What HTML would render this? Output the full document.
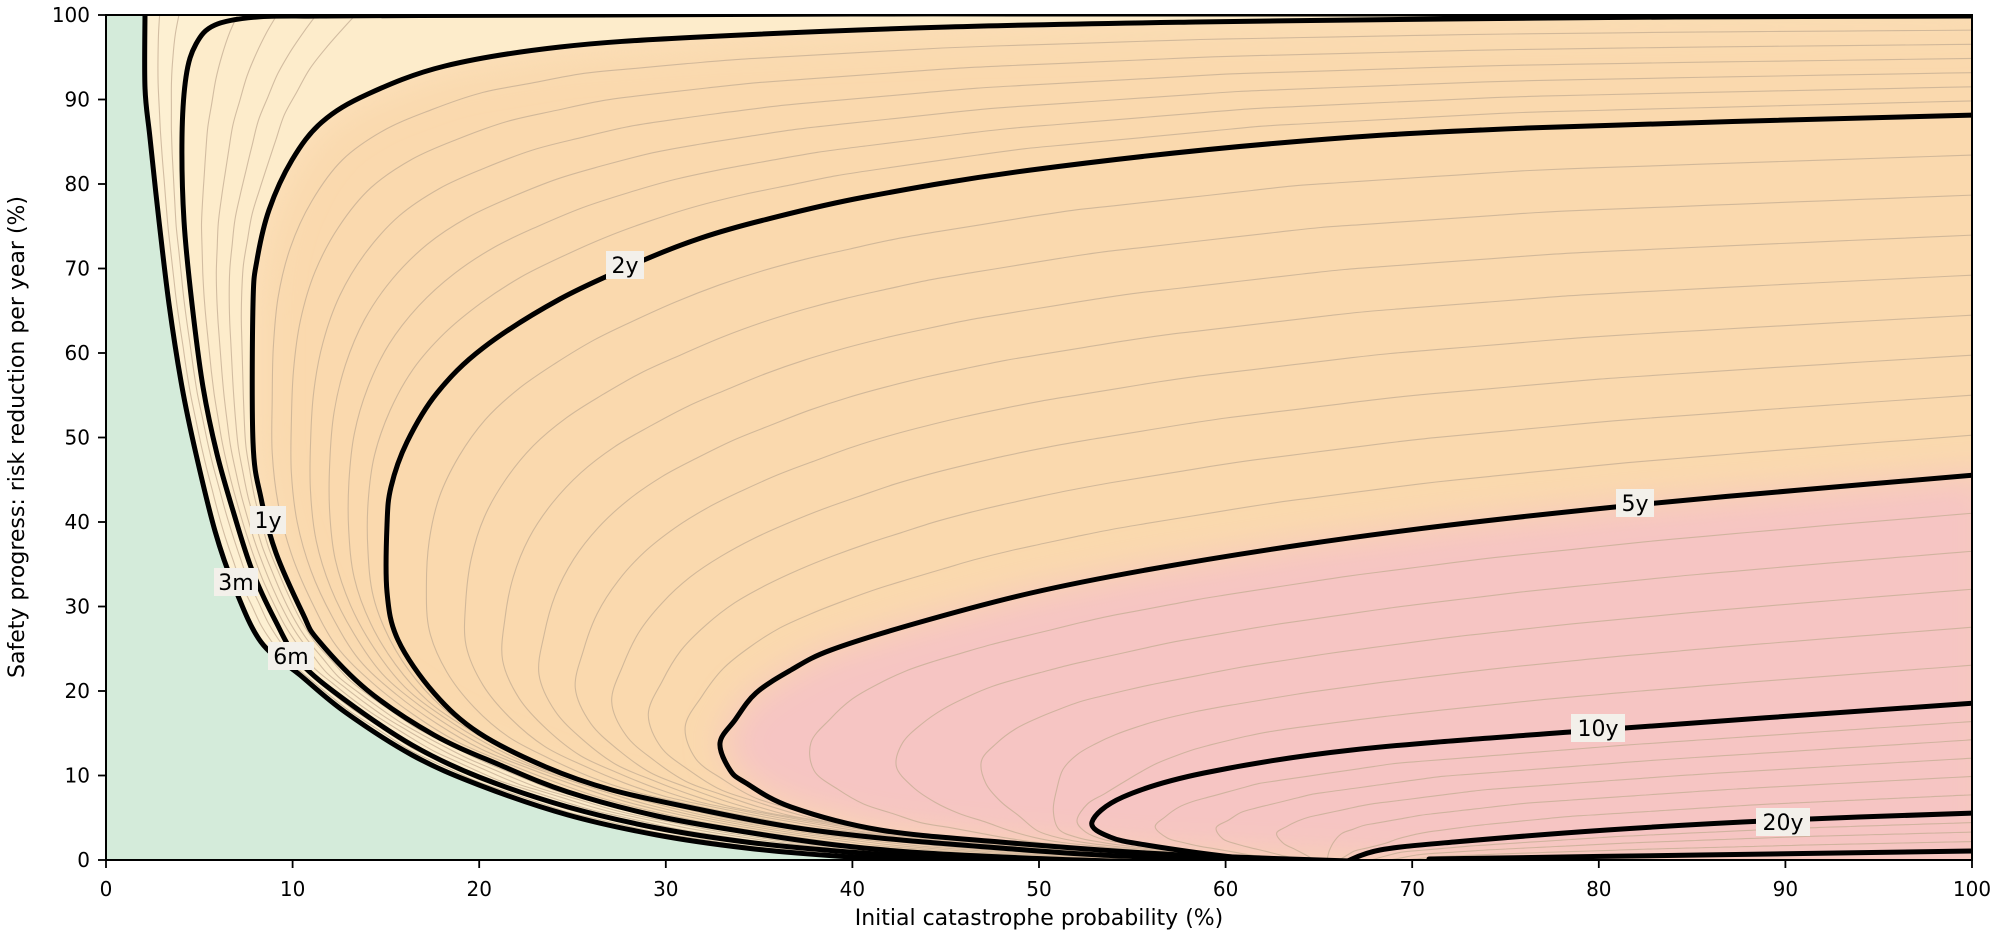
<!DOCTYPE html>
<html><head><meta charset="utf-8"><style>
html,body{margin:0;padding:0;background:#fff;}
svg{display:block;font-family:"DejaVu Sans","Liberation Sans",sans-serif;}
</style></head><body>
<svg id="s" width="1997" height="942" viewBox="0 0 1997 942" xmlns="http://www.w3.org/2000/svg">
<defs>
<clipPath id="pc"><rect x="106" y="15" width="1866" height="845"/></clipPath>
<filter id="bl" x="-20%" y="-20%" width="140%" height="140%"><feGaussianBlur stdDeviation="18"/></filter>
<filter id="bl2" x="-20%" y="-20%" width="140%" height="140%"><feGaussianBlur stdDeviation="22"/></filter>
</defs>
<rect width="1997" height="942" fill="#fff"/>
<g clip-path="url(#pc)">
<rect x="106" y="15" width="1866" height="845" fill="#fad9ae"/>
<path filter="url(#bl2)" fill="#fce3bf" d="M90,0 L1990,0 L1990,16 L1972,16 L1676,17 L1444,19 L1196,22 L948,27 L700,37 L560,47 L445,66 L368,94 L322,122 L292,160 L269,210 L257,260 L253,304 L253,442 L261,498 L276,553 L303,614 L318,640 L367,690 L434,735 L500,765 L568,792 L657,816 L746,832 L836,845 L925,853 L1050,859 L1150,862 L90,880 Z"/>
<path fill="#fdeccb" d="M90,0 L1990,0 L1990,16 L1972,16 L1676,17 L1444,19 L1196,22 L948,27 L700,37 L560,47 L445,66 L368,94 L322,122 L292,160 L269,210 L257,260 L253,304 L253,442 L261,498 L276,553 L303,614 L318,640 L367,690 L434,735 L500,765 L568,792 L657,816 L746,832 L836,845 L925,853 L1050,859 L1150,862 L90,880 Z"/>
<path fill="#fdf0d2" d="M90,0 L1990,0 L1990,14 L853,14 L257,17 L215,25 L196,44 L186,77 L182,138 L184,221 L192,304 L203,387 L217,454 L234,514 L252,570 L275,620 L300,662 L345,700 L412,745 L479,777 L568,807 L657,828 L746,842 L836,851 L925,857 L1000,862 L90,880 Z"/>
<path filter="url(#bl)" fill="#f6c5c3" d="M1990,470 L1972,475 L1635,505 L1450,525 L1300,545 L1146,570 L1031,593 L917,623 L831,650 L791,670 L746,700 L720,743 L746,783 L791,807 L880,830 L1000,842 L1146,853 L1261,858 L1350,862 L1990,880 Z"/>
<path fill="#d4ebda" d="M90,0 L145,0 L145,88 L150,138 L159,221 L169,304 L182,387 L196,454 L215,531 L234,586 L261,642 L300,675 L345,712 L412,755 L479,785 L568,815 L657,835 L746,848 L836,856 L925,861 L90,880 Z"/>
<g id="thin" fill="none" stroke="#c4ad93" stroke-width="1.1" opacity="0.75"></g>
<g id="thick" fill="none" stroke="#000" stroke-width="5" stroke-linejoin="round" stroke-linecap="round"></g>
</g>
<g font-size="22" text-anchor="middle" fill="#000">
<rect x="250" y="506" width="36" height="28" fill="#f3f0ea"/><text x="268" y="528">1y</text>
<rect x="214" y="568" width="44" height="28" fill="#f3f0ea"/><text x="236" y="590">3m</text>
<rect x="268" y="642" width="46" height="28" fill="#f3f0ea"/><text x="291" y="664">6m</text>
<rect x="606" y="251" width="38" height="28" fill="#f3f0ea"/><text x="625" y="273">2y</text>
<rect x="1616" y="489" width="38" height="28" fill="#f3f0ea"/><text x="1635" y="511">5y</text>
<rect x="1571" y="714" width="54" height="28" fill="#f3f0ea"/><text x="1598" y="736">10y</text>
<rect x="1756" y="808" width="54" height="28" fill="#f3f0ea"/><text x="1783" y="830">20y</text>
</g>
<rect x="106" y="15" width="1866" height="845" fill="none" stroke="#000" stroke-width="2"/>
<g stroke="#000" stroke-width="1.8">
<line x1="106" y1="860" x2="106" y2="868"/><line x1="292.6" y1="860" x2="292.6" y2="868"/><line x1="479.2" y1="860" x2="479.2" y2="868"/><line x1="665.8" y1="860" x2="665.8" y2="868"/><line x1="852.4" y1="860" x2="852.4" y2="868"/><line x1="1039" y1="860" x2="1039" y2="868"/><line x1="1225.6" y1="860" x2="1225.6" y2="868"/><line x1="1412.2" y1="860" x2="1412.2" y2="868"/><line x1="1598.8" y1="860" x2="1598.8" y2="868"/><line x1="1785.4" y1="860" x2="1785.4" y2="868"/><line x1="1972" y1="860" x2="1972" y2="868"/>
<line x1="98" y1="860" x2="106" y2="860"/><line x1="98" y1="775.5" x2="106" y2="775.5"/><line x1="98" y1="691" x2="106" y2="691"/><line x1="98" y1="606.5" x2="106" y2="606.5"/><line x1="98" y1="522" x2="106" y2="522"/><line x1="98" y1="437.5" x2="106" y2="437.5"/><line x1="98" y1="353" x2="106" y2="353"/><line x1="98" y1="268.5" x2="106" y2="268.5"/><line x1="98" y1="184" x2="106" y2="184"/><line x1="98" y1="99.5" x2="106" y2="99.5"/><line x1="98" y1="15" x2="106" y2="15"/>
</g>
<g font-size="20" fill="#000" text-anchor="middle">
<text x="106" y="896">0</text><text x="292.6" y="896">10</text><text x="479.2" y="896">20</text><text x="665.8" y="896">30</text><text x="852.4" y="896">40</text><text x="1039" y="896">50</text><text x="1225.6" y="896">60</text><text x="1412.2" y="896">70</text><text x="1598.8" y="896">80</text><text x="1785.4" y="896">90</text><text x="1972" y="896">100</text>
</g>
<g font-size="20" fill="#000" text-anchor="end">
<text x="90" y="867">0</text><text x="90" y="782.5">10</text><text x="90" y="698">20</text><text x="90" y="613.5">30</text><text x="90" y="529">40</text><text x="90" y="444.5">50</text><text x="90" y="360">60</text><text x="90" y="275.5">70</text><text x="90" y="191">80</text><text x="90" y="106.5">90</text><text x="90" y="22">100</text>
</g>
<text x="1039" y="925" font-size="22" text-anchor="middle">Initial catastrophe probability (%)</text>
<text transform="translate(24,437) rotate(-90)" font-size="22" text-anchor="middle">Safety progress: risk reduction per year (%)</text>
</svg>
<script>
var C={
m3:[[145,13],[145,88],[150,138],[159,221],[169,304],[182,387],[196,454],[215,531],[234,586],[261,642],[300,675],[345,712],[412,755],[479,785],[568,815],[657,835],[746,848],[836,856],[925,860],[1000,862]],
m6:[[1975,14],[1500,14],[1100,14],[853,14],[600,15],[420,15.5],[320,16],[257,17],[215,25],[196,44],[186,77],[182,138],[184,221],[192,304],[203,387],[217,454],[234,514],[252,570],[275,620],[300,662],[345,700],[412,745],[479,777],[568,807],[657,828],[746,842],[836,851],[925,857],[1000,861]],
y1:[[1975,16],[1676,17],[1444,19],[1196,22],[948,27],[700,37],[560,47],[445,66],[368,94],[322,122],[292,160],[269,210],[257,260],[253,304],[253,442],[261,498],[276,553],[303,614],[318,640],[367,690],[434,735],[500,765],[568,792],[657,816],[746,832],[836,845],[925,853],[1050,859],[1150,862]],
y2:[[1975,115],[1527,128],[1279,143],[1031,170],[865,197],[764,220],[701,238],[644,260],[560,299],[483,348],[437,393],[407,442],[391,487],[387,525],[387,592],[398,640],[434,693],[479,733],[546,767],[612,790],[702,810],[791,827],[880,838],[1000,848],[1100,855],[1250,861]],
y5:[[1975,475],[1800,490],[1635,505],[1450,525],[1300,545],[1146,570],[1031,593],[917,623],[831,650],[791,670],[756,693],[735,720],[720,743],[730,770],[746,783],[791,807],[880,830],[1000,842],[1146,853],[1261,858],[1350,861]],
y10:[[1975,703],[1597,730],[1352,750],[1204,773],[1123,797],[1092,822],[1110,837],[1146,845],[1232,857],[1290,861]],
y20:[[1975,813],[1785,820],[1607,830],[1454,842],[1380,850],[1345,862]],
yb:[[1975,851],[1700,855],[1429,859]]
};
var m6t=[[200,10],[190,40],[185,77],[182,138]].concat(C.m6.slice(12));
var y1t=[[400,10],[345,60],[310,110],[285,170],[269,210]].concat(C.y1.slice(11));
var m3t=[[140,10]].concat(C.m3.slice(1));
function resample(p,n){var L=[0];for(var i=1;i<p.length;i++)L.push(L[i-1]+Math.hypot(p[i][0]-p[i-1][0],p[i][1]-p[i-1][1]));var T=L[L.length-1],out=[],j=0;for(var k=0;k<n;k++){var s=T*k/(n-1);while(j<p.length-2&&L[j+1]<s)j++;var t=(s-L[j])/((L[j+1]-L[j])||1);out.push([p[j][0]+(p[j+1][0]-p[j][0])*t,p[j][1]+(p[j+1][1]-p[j][1])*t]);}return out;}
function smooth(p){var d="M"+p[0][0].toFixed(1)+","+p[0][1].toFixed(1);for(var i=0;i<p.length-1;i++){var p0=p[i-1]||p[i],p1=p[i],p2=p[i+1],p3=p[i+2]||p2;var c1=[p1[0]+(p2[0]-p0[0])/6,p1[1]+(p2[1]-p0[1])/6],c2=[p2[0]-(p3[0]-p1[0])/6,p2[1]-(p3[1]-p1[1])/6];d+="C"+c1[0].toFixed(1)+","+c1[1].toFixed(1)+" "+c2[0].toFixed(1)+","+c2[1].toFixed(1)+" "+p2[0].toFixed(1)+","+p2[1].toFixed(1);}return d;}
var NS="http://www.w3.org/2000/svg";
function add(g,d){var e=document.createElementNS(NS,"path");e.setAttribute("d",d);document.getElementById(g).appendChild(e);}
function interp(a,b,n){var N=200,A=resample(a,N),B=resample(b,N);for(var k=1;k<=n;k++){var t=k/(n+1),p=[];for(var i=0;i<N;i++)p.push([A[i][0]+(B[i][0]-A[i][0])*t,A[i][1]+(B[i][1]-A[i][1])*t]);add("thin",smooth(resample(p,60)));}}
interp(m3t,m6t,2);interp(m6t,y1t,4);interp(C.y1,C.y2,6);interp(C.y2,C.y5,8);interp(C.y5,C.y10,5);interp(C.y10,C.y20,5);interp(C.y20,C.yb,3);
for(var k in C)add("thick",smooth(C[k]));
</script>
</body></html>
